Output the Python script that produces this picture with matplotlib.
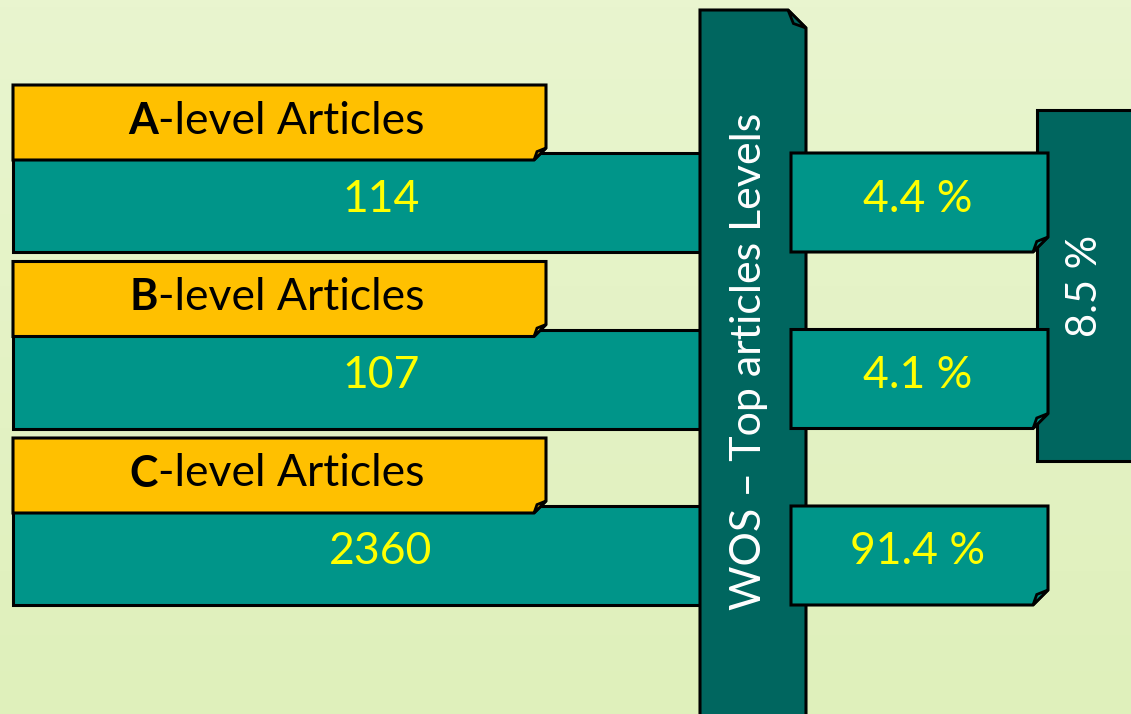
import numpy as np
import matplotlib.pyplot as plt
from matplotlib.patches import Polygon
from matplotlib.colors import LinearSegmentedColormap

plt.rcParams['font.family'] = ['Lato', 'DejaVu Sans']

# data
levels = ['A', 'B', 'C']
counts = [114, 107, 2360]
shares = [4.4, 4.1, 91.4]
top_share = 8.5  # A + B
title = 'WOS – Top articles Levels'

ORANGE = '#ffc000'
TEAL = '#009589'
DARK = '#00665f'
YELLOW = '#ffff00'

fig = plt.figure(figsize=(11.31, 7.14), dpi=100)
ax = fig.add_axes([0, 0, 1, 1])
ax.set_xlim(0, 1131)
ax.set_ylim(714, 0)
ax.axis('off')

# background gradient
bg = LinearSegmentedColormap.from_list('bg', ['#e9f5cf', '#dff0bb'])
ax.imshow(np.linspace(0, 1, 100).reshape(-1, 1), cmap=bg, aspect='auto',
          extent=[0, 1131, 714, 0], zorder=0)


def box(x0, y0, x1, y1, color, corner=None, c=12, z=1):
    # rectangle with a curled corner ('br' bottom-right or 'tr' top-right)
    if corner == 'br':
        pts = [(x0, y0), (x1, y0), (x1, y1 - c), (x1 - c, y1), (x0, y1)]
        fold = [(x1, y1 - c), (x1 - c, y1), (x1 - c * 0.75, y1 - c * 0.7)]
    elif corner == 'tr':
        pts = [(x0, y0), (x1 - c, y0), (x1, y0 + c), (x1, y1), (x0, y1)]
        fold = [(x1 - c, y0), (x1, y0 + c), (x1 - c * 0.7, y0 + c * 0.75)]
    else:
        pts = [(x0, y0), (x1, y0), (x1, y1), (x0, y1)]
        fold = None
    ax.add_patch(Polygon(pts, closed=True, fc=color, ec='black', lw=2.2,
                         joinstyle='miter', zorder=z))
    if fold:
        ax.add_patch(Polygon(fold, closed=True, fc=color, ec='black', lw=2.0,
                             zorder=z + 0.1))


row_y = [0, 176.5, 353]
for i, lv in enumerate(levels):
    dy = row_y[i]
    # teal count bar (goes behind the vertical bar)
    box(13, 153 + dy, 720, 252 + dy, TEAL, z=1)
    ax.text(381, 199 + dy, f'{counts[i]}', color=YELLOW, fontsize=32,
            ha='center', va='center', zorder=7)
    # orange label
    box(13, 85 + dy, 546, 160 + dy, ORANGE, corner='br', c=12, z=2)
    ax.text(158, 121 + dy, lv, fontsize=31, fontweight='bold', ha='right',
            va='center', zorder=7)
    ax.text(158, 121 + dy, '-level Articles', fontsize=32, ha='left',
            va='center', zorder=7)

# combined share box on the right
box(1037, 110, 1145, 461, DARK, z=1)
ax.text(1085, 286, f'{top_share} %', color='white', fontsize=30,
        rotation=90, ha='center', va='center', zorder=7)

# vertical title bar
box(700, 10, 806, 740, DARK, corner='tr', c=18, z=3)
ax.text(749, 361, title, color='white', fontsize=31,
        rotation=90, ha='center', va='center', zorder=7)

# percentage boxes (on top of the title bar edge)
for i, s in enumerate(shares):
    dy = row_y[i]
    box(791, 153 + dy, 1048, 252 + dy, TEAL, corner='br', c=15, z=5)
    ax.text(918, 199 + dy, f'{s} %', color=YELLOW, fontsize=32,
            ha='center', va='center', zorder=7)

fig.savefig('out.png', dpi=100)
